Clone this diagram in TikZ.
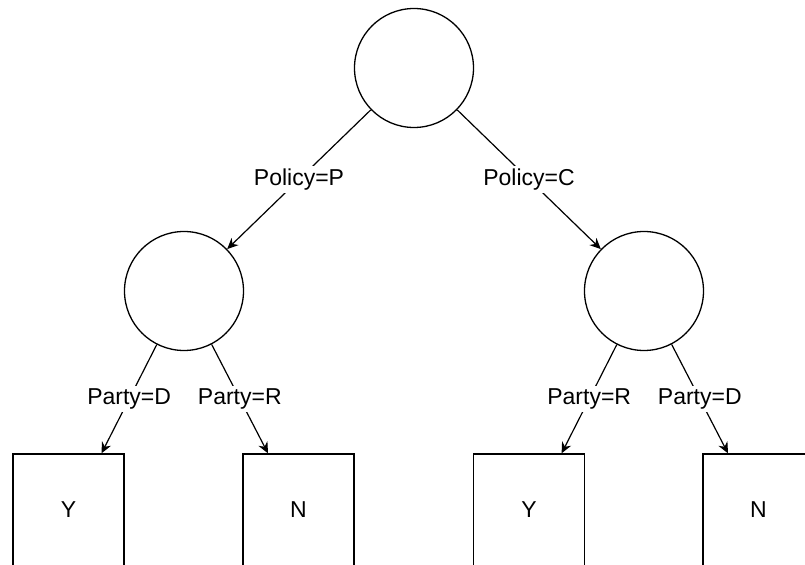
\documentclass[tikz,border=0pt]{standalone}
\usepackage{fontspec}
\setmainfont{Liberation Sans}
\usetikzlibrary{arrows.meta}
\begin{document}
\begin{tikzpicture}[x=0.5pt,y=-0.5pt,
  dec/.style={circle,draw,line width=0.65pt,minimum size=59.5pt,inner sep=0pt},
  leaf/.style={rectangle,draw,line width=0.65pt,minimum width=55.5pt,minimum height=56pt,inner sep=0pt,font=\fontsize{11.5}{13}\selectfont},
  conn/.style={line width=0.6pt,-{Stealth[length=5.5pt,width=5pt,inset=1.8pt]}},
  lab/.style={fill=white,inner sep=1.5pt,font=\fontsize{11.5}{13}\selectfont}]
\useasboundingbox (0,0) rectangle (805,565);
\clip (0,0) rectangle (805,565);
\node[dec] (root) at (414,68) {};
\node[dec] (l) at (184,291) {};
\node[dec] (r) at (644,291) {};
\node[leaf] (y1) at (68.5,510) {Y};
\node[leaf] (n1) at (298.5,510) {N};
\node[leaf] (y2) at (529,510) {Y};
\node[leaf] (n2) at (758.5,510) {N};
\draw[conn] (root) -- node[lab] {Policy=P} (l);
\draw[conn] (root) -- node[lab] {Policy=C} (r);
\draw[conn] (l) -- node[lab] {Party=D} ([xshift=16.5pt]y1.north);
\draw[conn] (l) -- node[lab] {Party=R} ([xshift=-15.25pt]n1.north);
\draw[conn] (r) -- node[lab] {Party=R} ([xshift=16.3pt]y2.north);
\draw[conn] (r) -- node[lab] {Party=D} ([xshift=-15.25pt]n2.north);
\end{tikzpicture}
\end{document}
